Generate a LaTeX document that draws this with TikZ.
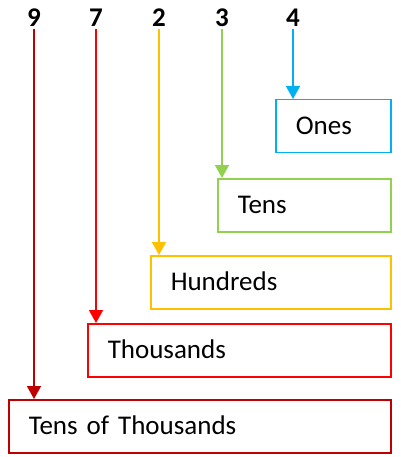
\documentclass[tikz,border=0pt]{standalone}
\usepackage{fontspec}
\setmainfont{Carlito}
\usetikzlibrary{positioning, arrows.meta, calc}
\definecolor{onesblue}{HTML}{00B0F0}
\definecolor{tensgreen}{HTML}{92D050}
\definecolor{hundyellow}{HTML}{FFC000}
\definecolor{thousred}{HTML}{FF0000}
\definecolor{tthdark}{HTML}{C00000}

\begin{document}
\begin{tikzpicture}[
  x=1pt, y=-1pt,
  every node/.style={font=\fontsize{27}{32}\selectfont},
  >={Triangle[length=13pt, width=14pt]},
  digit/.style={font=\fontsize{27}{32}\selectfont\bfseries, inner sep=0pt, anchor=base},
  place/.style={
    draw=#1, line width=1.5pt, anchor=north west,
    minimum height=53pt, inner xsep=20pt, inner ysep=0pt,
    text height=17pt, text depth=0pt, align=left
  },
  arrow/.style={->, line width=1.5pt, draw=#1, fill=#1, shorten <=2pt}
]
\useasboundingbox (0,0) rectangle (400,457);

% Digits
\node[digit] (d9) at (34,27) {9};
\node[digit] (d7) at (96,27) {7};
\node[digit] (d2) at (159,27) {2};
\node[digit] (d3) at (222,27) {3};
\node[digit] (d4) at (293,27) {4};

% Place value boxes
\node[place=onesblue,    text width=75pt]  (ones) at (275,99)  {Ones};
\node[place=tensgreen,   text width=133pt] (tens) at (217,178) {Tens};
\node[place=hundyellow,  text width=200pt] (hund) at (150,255) {Hundreds};
\node[place=thousred,    text width=263pt] (thou) at (87,323)  {Thousands};
\node[place=tthdark,     text width=342pt] (tth)  at (8,399)   {Tens of Thousands};

% Arrows
\draw[arrow=onesblue]   (d4.south) -- (d4.south |- ones.north);
\draw[arrow=tensgreen]  (d3.south) -- (d3.south |- tens.north);
\draw[arrow=hundyellow] (d2.south) -- (d2.south |- hund.north);
\draw[arrow=thousred]   (d7.south) -- (d7.south |- thou.north);
\draw[arrow=tthdark]    (d9.south) -- (d9.south |- tth.north);

\end{tikzpicture}
\end{document}
